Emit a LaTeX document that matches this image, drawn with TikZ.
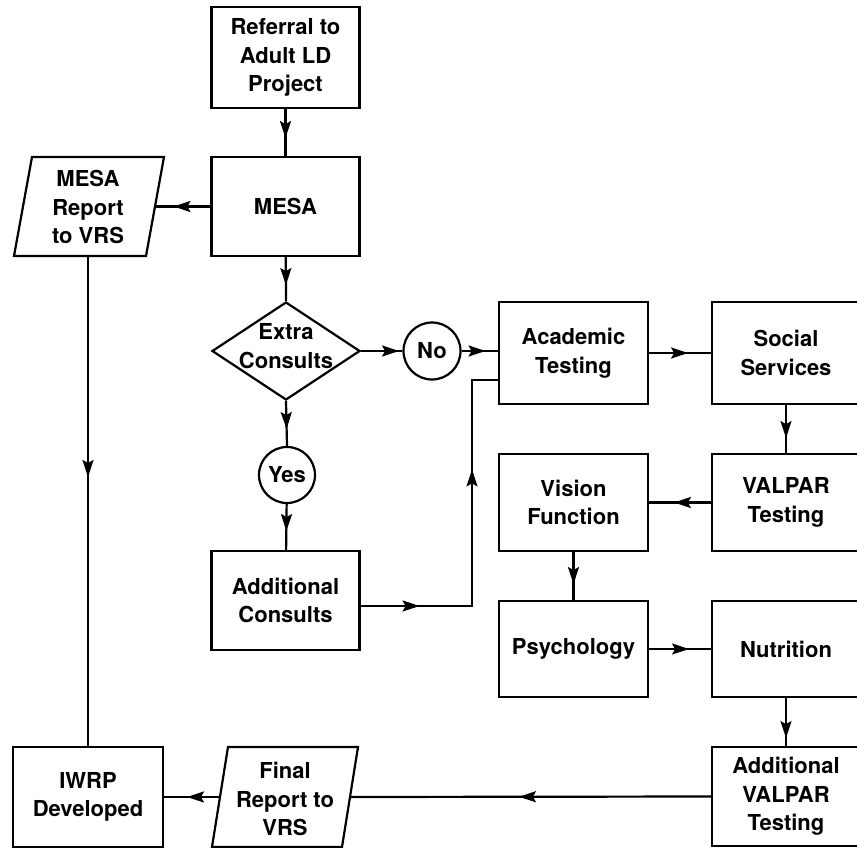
\documentclass[tikz,border=0pt]{standalone}
\usepackage{fontspec}
\setmainfont{TeX Gyre Heros}
\usetikzlibrary{shapes.geometric,arrows.meta,decorations.markings}
\begin{document}
\begin{tikzpicture}[x=1pt,y=-1pt,
  every node/.style={font=\fontsize{22}{28.5}\selectfont\bfseries, align=center, inner sep=0pt},
  box/.style={draw, line width=2.2pt, minimum width=148pt, minimum height=100pt},
  ln/.style={line width=2.2pt},
  tipk/.tip={Stealth[length=17pt,width=11pt,inset=3pt]},
  arr/.style={ln, postaction={decorate}, decoration={markings, mark=at position #1 with {\arrow{tipk}}}},
  arrtwo/.style 2 args={ln, postaction={decorate}, decoration={markings, mark=at position #1 with {\arrow{tipk}}, mark=at position #2 with {\arrow{tipk}}}},
  circ/.style={draw, circle, line width=2.2pt, minimum size=57pt},
  txt/.style={}
]
\useasboundingbox (0,0) rectangle (857,848);
\fill[white] (0,0) rectangle (857,848);
\clip (0,0) rectangle (857,848);

% nodes
\node[box, minimum height=101pt] (ref) at (285.5,57.5) {Referral to\\Adult LD\\Project};
\node[box, minimum height=99pt] (mesa) at (285.5,206.5) {MESA};
\node[draw, diamond, line width=2.2pt, minimum width=148pt, minimum height=98pt] (dia) at (286,351) {};
\node (diatxt) at (286,346) {Extra\\Consults};
\node[circ] (no) at (432,351) {No};
\node[circ, minimum size=56pt] (yes) at (287,475) {Yes};
\node[box, minimum height=99pt] (addc) at (285.5,600.5) {Additional\\Consults};
\node[box, minimum width=149pt, minimum height=102pt] (acad) at (573.5,353) {Academic\\Testing};
\node[box, minimum height=102pt] (soc) at (786,353) {Social\\Services};
\node[box, minimum width=149pt, minimum height=97pt] (vis) at (573.5,502.5) {Vision\\Function};
\node[box, minimum height=97pt] (val) at (786,502.5) {VALPAR\\Testing};
\node[box, minimum width=149pt, minimum height=96pt] (psy) at (573.5,649) {Psychology};
\node[box, minimum height=96pt] (nut) at (786,649) {Nutrition};
\node[box, minimum height=99pt] (addv) at (786,796.5) {Additional\\VALPAR\\Testing};
\node[box, minimum width=150pt, minimum height=100pt] (iwrp) at (88,797) {IWRP\\Developed};

% parallelograms
\node[txt] (rep) at (88,207) {MESA\\Report\\to VRS};
\draw[ln, line join=miter] (32,157) -- (164,157) -- (146,256) -- (14,256) -- cycle;
\coordinate (repE) at (155,206.5);
\coordinate (repS) at (88,256);
\node[txt] (fin) at (285,799) {Final\\Report to\\VRS};
\draw[ln, line join=miter] (228,747) -- (358,747) -- (342,847) -- (212,847) -- cycle;
\coordinate (finE) at (350,797);
\coordinate (finW) at (220,797);

% connectors
\draw[arr=29pt] (ref) -- (mesa);
\draw[arr=37pt] (mesa.west) -- (repE);
\draw[arr=28pt] (mesa) -- (dia.north);
\draw[arr=38pt] (dia.east) -- (no.west);
\draw[arr=24pt] (no.east) -- (no.east -| acad.west);
\draw[arr=39pt] (acad) -- (soc);
\draw[arr=33pt] (soc) -- (val);
\draw[arr=37pt] (val) -- (vis);
\draw[arr=32pt] (vis) -- (psy);
\draw[arr=40pt] (psy) -- (nut);
\draw[arr=40pt] (nut) -- (addv);
\draw[arr=192pt] (addv.west) -- (finE);
\draw[arr=33pt] (finW) -- (iwrp.east);
\draw[arr=221pt] (repS) -- (iwrp.north);
\draw[arr=28pt] (dia.south) -- (yes.north);
\draw[arr=27pt] (yes) -- (addc);
\coordinate (jb) at (472,606);
\coordinate (jt) at (472,380);
\draw[arrtwo={59pt}{248pt}, line join=miter] (jb -| addc.east) -- (jb) -- (jt) -- (jt -| acad.west);
\end{tikzpicture}
\end{document}
